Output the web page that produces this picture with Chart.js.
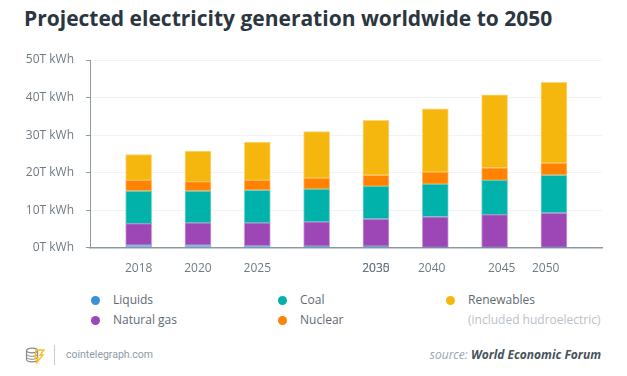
<!DOCTYPE html>
<html>
<head>
<meta charset="utf-8">
<script src="https://cdn.jsdelivr.net/npm/chart.js@4.4.0/dist/chart.umd.min.js"></script>
<style>
  body { margin: 0; background: #fff; font-family: "Open Sans", sans-serif; }
  #page { position: relative; width: 627px; height: 376px; overflow: hidden; }
  h1 { position: absolute; left: 24px; top: 4px; margin: 0; font-size: 21px; font-weight: 700; color: #2b3640; white-space: nowrap; }
  #chartBox { position: absolute; left: 0; top: 40px; width: 627px; height: 250px; }
  .lg { position: absolute; font-size: 12px; color: #5e6a73; line-height: 18px; white-space: nowrap; }
  .dot { position: absolute; width: 9px; height: 9px; border-radius: 50%; }
  .note { color: #b9c1c7; }
  #divider { position: absolute; left: 54px; top: 345px; width: 1px; height: 20px; background: #c8cccf; }
  #site { position: absolute; left: 66px; top: 347px; font-family: Roboto, sans-serif; font-size: 10.5px; color: #8e9aa3; line-height: 16px; }
  #source { position: absolute; right: 26px; top: 346px; font-size: 12px; font-style: italic; color: #9aa3aa; line-height: 18px; }
  #source b { color: #46525c; }
  #logo { position: absolute; left: 25px; top: 347px; }
</style>
</head>
<body>
<div id="page">
  <h1>Projected electricity generation worldwide to 2050</h1>
  <div id="chartBox"><canvas id="myChart" width="627" height="250"></canvas></div>
  <div id="legend"></div>
  <svg id="logo" width="20" height="17" viewBox="0 0 20 17">
    <ellipse cx="7" cy="3.5" rx="5.5" ry="2.3" fill="none" stroke="#8a8a8a" stroke-width="1.2"/>
    <path d="M1.5 3.5 v9 a5.5 2.3 0 0 0 11 0 v-9" fill="none" stroke="#8a8a8a" stroke-width="1.2"/>
    <path d="M1.5 7 a5.5 2.3 0 0 0 11 0 M1.5 10 a5.5 2.3 0 0 0 11 0" fill="none" stroke="#8a8a8a" stroke-width="1"/>
    <path d="M11 3 h8 l-4 5 h3 l-7 8.5 l2 -6 h-3 z" fill="none" stroke="#f5c01a" stroke-width="1.3"/>
  </svg>
  <div id="divider"></div>
  <div id="site">cointelegraph.com</div>
  <div id="source">source: <b>World Economic Forum</b></div>
</div>
<script>
// years of the bars (one bar per year)
var years = ['2018', '2020', '2025', '2030', '2035', '2040', '2045', '2050'];

// values in trillion kWh
var liquids    = [0.7, 0.7, 0.5, 0.4, 0.4, 0.1, 0.1, 0.1];
var naturalGas = [5.7, 5.9, 6.1, 6.5, 7.25, 8.15, 8.7, 9.15];
var coal       = [8.7, 8.5, 8.7, 8.7, 8.7, 8.7, 9.15, 10.05];
var nuclear    = [2.85, 2.5, 2.65, 2.95, 2.95, 3.2, 3.35, 3.25];
var renewables = [6.85, 8.15, 10.2, 12.35, 14.6, 16.85, 19.45, 21.5];

var yTicks = [0, 10, 20, 30, 40, 50];

// tick labels under the axis, as printed in the original (2030 and 2035 overlap)
var tickLabels = ['2018', '2020', '2025', '2030', '2035', '2040', '2045', '2050'];
// where each printed label sits, in bar slots (layout only)
var labelSlots = [0, 1, 2, 4, 4, 4.94, 6.12, 6.86];

var seriesNames  = ['Liquids', 'Natural gas', 'Coal', 'Nuclear', 'Renewables'];
var seriesColors = ['#3a90d8', '#9c47b5', '#00b2a9', '#ff8300', '#f5b70d'];
var seriesData   = [liquids, naturalGas, coal, nuclear, renewables];

function toPoints(arr) {
  return arr.map(function (v, i) { return { x: i, y: v }; });
}

var axisGrey = '#8d99a1';

window.onload = function () {
  var ctx = document.getElementById('myChart').getContext('2d');

  var datasets = seriesNames.map(function (name, k) {
    return {
      label: name,
      data: toPoints(seriesData[k]),
      backgroundColor: seriesColors[k],
      borderColor: seriesColors[k] + '88',
      borderWidth: 1,
      borderSkipped: false,
      barThickness: 26
    };
  });

  var myChart = new Chart(ctx, {
    type: 'bar',
    data: { datasets: datasets },
    options: {
      responsive: false,
      animation: false,
      layout: { padding: { left: 0, right: 25, top: 20, bottom: 0 } },
      plugins: { legend: { display: false }, tooltip: { enabled: false } },
      scales: {
        x: {
          type: 'linear',
          stacked: true,
          offset: false,
          min: -0.82,
          max: 7.81,
          grid: { display: false, drawTicks: false },
          border: { display: true, color: axisGrey, width: 1.5 },
          afterBuildTicks: function (scale) {
            scale.ticks = labelSlots.map(function (v) { return { value: v }; });
          },
          ticks: {
            autoSkip: false,
            maxRotation: 0,
            padding: 14,
            color: '#6f7b84',
            font: { family: 'Open Sans', size: 12 },
            callback: function (v, i) { return tickLabels[i]; }
          },
          afterFit: function (scale) { scale.height = 42.3; }
        },
        y: {
          stacked: true,
          min: 0,
          max: 50,
          afterBuildTicks: function (scale) {
            scale.ticks = yTicks.map(function (v) { return { value: v }; });
          },
          grid: { color: '#f1f2f3', tickColor: axisGrey, tickLength: 4 },
          border: { display: true, color: axisGrey, width: 1 },
          ticks: {
            padding: 12,
            color: '#6f7b84',
            font: { family: 'Open Sans', size: 12 },
            callback: function (v) { return v + 'T kWh'; }
          },
          afterFit: function (scale) { scale.width = 90; }
        }
      }
    }
  });

  // legend in three columns, built from the chart's datasets
  var colText = [113, 300, 468];
  var rowY = [291, 311];
  var legend = document.getElementById('legend');
  myChart.data.datasets.forEach(function (ds, i) {
    var col = Math.floor(i / 2), row = i % 2;
    var dot = document.createElement('div');
    dot.className = 'dot';
    dot.style.background = ds.backgroundColor;
    dot.style.left = (colText[col] - 22.5) + 'px';
    dot.style.top = (rowY[row] + 4.5) + 'px';
    legend.appendChild(dot);
    var t = document.createElement('div');
    t.className = 'lg';
    t.textContent = ds.label;
    t.style.left = colText[col] + 'px';
    t.style.top = rowY[row] + 'px';
    legend.appendChild(t);
  });
  var note = document.createElement('div');
  note.className = 'lg note';
  note.textContent = '(included hudroelectric)';
  note.style.left = colText[2] + 'px';
  note.style.top = rowY[1] + 'px';
  legend.appendChild(note);
};
</script>
</body>
</html>
